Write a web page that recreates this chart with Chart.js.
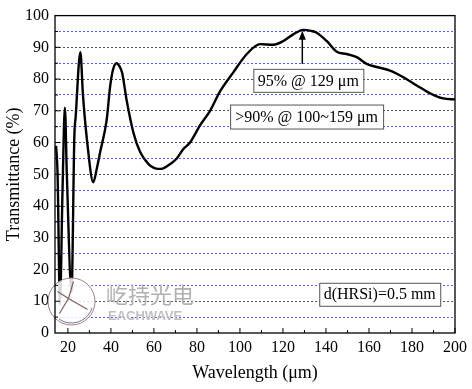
<!DOCTYPE html>
<html>
<head>
<meta charset="utf-8">
<script src="https://cdn.jsdelivr.net/npm/chart.js@4"></script>
<style>
  html, body { margin: 0; padding: 0; background: #fff; }
  #wrap { width: 472px; height: 389px; }
</style>
</head>
<body>
<div id="wrap"><canvas id="transChart" width="472" height="389"></canvas></div>
<script>
// values
var wavelength = [14.5, 15.2, 16.3, 17.5, 18.6, 19.5, 21.7, 23.0, 23.6, 25.8, 27.0, 29.0, 31.8, 33.5, 35.0,
  38.0, 39.7, 41.0, 42.6, 44.0, 45.2, 47.4, 50.5, 53.6, 57.5, 60.0, 62.0, 64.4, 67.5, 70.6, 73.7, 76.8,
  81.5, 86.1, 90.8, 97.0, 103.2, 109.4, 115.5, 120.2, 124.8, 129.5, 133.0, 135.7, 140.3, 145.0, 149.6,
  154.3, 158.9, 163.6, 169.8, 176.0, 182.2, 188.4, 194.5, 200.0];
var transmittance = [59, 50, 9, 45, 71, 50, 13, 62, 68, 88.5, 75, 60, 47.5, 52, 57,
  67, 78, 83, 85, 84, 82, 73, 63, 57, 53.2, 52, 51.7, 51.9, 53.2, 55, 58, 60,
  65.5, 70, 76.2, 82.2, 87.9, 91, 90.8, 92, 94.1, 95.5, 95.2, 94.6, 92, 88.6, 87.9,
  86.9, 84.8, 83.8, 82.7, 80.6, 78, 75.5, 73.9, 73.6];
var xTickLabels = [20, 40, 60, 80, 100, 120, 140, 160, 180, 200];
var yTickLabels = [0, 10, 20, 30, 40, 50, 60, 70, 80, 90, 100];

var serif = "'Liberation Serif', 'Times New Roman', serif";

// frame, inward ticks, annotations and watermark
var decor = {
  id: 'decor',
  afterDatasetsDraw: function(chart) {
    var c = chart.ctx, a = chart.chartArea, x = chart.scales.x, y = chart.scales.y;
    c.save();
    // watermark logo
    var cx = 71.5, cy = 301.5, r = 23.5;
    c.fillStyle = 'rgba(255,255,255,0.85)';
    c.beginPath(); c.arc(cx, cy, r, 0, Math.PI * 2); c.fill();
    c.strokeStyle = '#a08080'; c.lineWidth = 1;
    c.beginPath(); c.arc(cx, cy, r, 0, Math.PI * 2); c.stroke();
    c.strokeStyle = '#7070a0';
    c.beginPath(); c.arc(cx, cy, r - 2, 0.3, 2.2); c.stroke();
    c.strokeStyle = '#806060'; c.lineWidth = 1.2;
    c.beginPath();
    c.moveTo(cx - 14, cy - 10); c.lineTo(cx - 3, cy - 3); c.lineTo(cx - 12, cy + 12);
    c.moveTo(cx - 3, cy - 3); c.lineTo(cx + 2, cy - 20);
    c.moveTo(cx - 3, cy - 3); c.lineTo(cx + 16, cy + 8);
    c.stroke();
    c.fillStyle = '#b0b0b0';
    c.font = "22px 'Noto Sans CJK SC'";
    c.textAlign = 'left'; c.textBaseline = 'middle';
    c.fillText('屹持光电', 106, 295);
    c.font = "bold 13px 'Liberation Sans', sans-serif";
    c.fillStyle = '#c0c0c0';
    c.fillText('EACHWAVE', 108, 316);

    // frame
    c.strokeStyle = '#000'; c.lineWidth = 1.3;
    c.strokeRect(a.left, a.top, a.right - a.left, a.bottom - a.top);
    // inward ticks
    c.lineWidth = 1;
    c.beginPath();
    for (var v = 20; v <= 200; v += 10) {
      var px = x.getPixelForValue(v);
      var len = v % 20 === 0 ? 5 : 3;
      c.moveTo(px, a.bottom); c.lineTo(px, a.bottom - len);
    }
    for (var w = 5; w < 100; w += 5) {
      var py = y.getPixelForValue(w);
      var l2 = w % 10 === 0 ? 5 : 3;
      c.moveTo(a.left, py); c.lineTo(a.left + l2, py);
    }
    c.stroke();

    // annotations
    c.font = '16px ' + serif;
    c.textAlign = 'center'; c.textBaseline = 'middle';
    function box(text, wx, wy, bw, bh) {
      var bx = x.getPixelForValue(wx), by = y.getPixelForValue(wy);
      c.fillStyle = '#fff';
      c.fillRect(bx - bw / 2, by - bh / 2, bw, bh);
      c.strokeStyle = '#555'; c.lineWidth = 1;
      c.strokeRect(bx - bw / 2 + 0.5, by - bh / 2 + 0.5, bw, bh);
      c.fillStyle = '#000';
      c.fillText(text, bx, by + 1);
    }
    // arrow to the peak
    var ax = x.getPixelForValue(129), ay0 = y.getPixelForValue(84.8), ay1 = y.getPixelForValue(95.2);
    c.strokeStyle = '#000'; c.lineWidth = 1.5;
    c.beginPath(); c.moveTo(ax, ay0); c.lineTo(ax, ay1 + 6); c.stroke();
    c.fillStyle = '#000';
    c.beginPath(); c.moveTo(ax, ay1); c.lineTo(ax - 3.5, ay1 + 9); c.lineTo(ax + 3.5, ay1 + 9); c.closePath(); c.fill();
    box('95% @ 129 μm', 131.8, 79.6, 110, 23);
    box('>90% @ 100~159 μm', 131, 68.2, 153, 24);
    box('d(HRSi)=0.5 mm', 165, 12.2, 121, 23);
    c.restore();
  }
};

var ctx = document.getElementById('transChart');
var transChart = new Chart(ctx, {
  type: 'scatter',
  data: {
    datasets: [{
      data: wavelength.map(function(w, i) { return { x: w, y: transmittance[i] }; }),
      showLine: true,
      borderColor: '#000',
      borderWidth: 2.4,
      pointRadius: 0,
      cubicInterpolationMode: 'monotone',
      fill: false
    }]
  },
  options: {
    responsive: false,
    animation: false,
    layout: { padding: { top: 11, right: 17, left: 0, bottom: 0 } },
    plugins: { legend: { display: false }, tooltip: { enabled: false } },
    scales: {
      x: {
        type: 'linear',
        min: 14,
        max: 200,
        afterBuildTicks: function(scale) {
          scale.ticks = xTickLabels.map(function(v) { return { value: v }; });
        },
        afterFit: function(scale) { scale.height = 56; },
        grid: { display: false, drawTicks: false },
        border: { display: false },
        ticks: { color: '#000', padding: 5, maxRotation: 0, autoSkip: false, font: { family: serif, size: 16 } },
        title: { display: true, text: 'Wavelength (μm)', color: '#000', padding: { top: 0, bottom: 5 }, font: { family: serif, size: 18 } }
      },
      y: {
        min: 0,
        max: 100,
        afterBuildTicks: function(scale) {
          var t = [];
          for (var v = 0; v <= 100; v += 5) t.push({ value: v });
          scale.ticks = t;
        },
        afterFit: function(scale) { scale.width = 55; },
        grid: {
          drawTicks: false,
          lineWidth: 1,
          color: function(c) {
            var v = c.tick ? c.tick.value : 0;
            if (v === 0 || v === 100) return 'rgba(0,0,0,0)';
            return v % 10 === 0 ? '#555555' : '#5a5aff';
          }
        },
        border: { display: false, dash: [2, 2] },
        ticks: {
          color: '#000',
          padding: 6,
          autoSkip: false,
          font: { family: serif, size: 16 },
          callback: function(v) { return yTickLabels.indexOf(v) >= 0 ? v : ''; }
        },
        title: { display: true, text: 'Transmittance (%)', color: '#000', padding: { top: 3, bottom: 0 }, font: { family: serif, size: 18 } }
      }
    }
  },
  plugins: [decor]
});
</script>
</body>
</html>
